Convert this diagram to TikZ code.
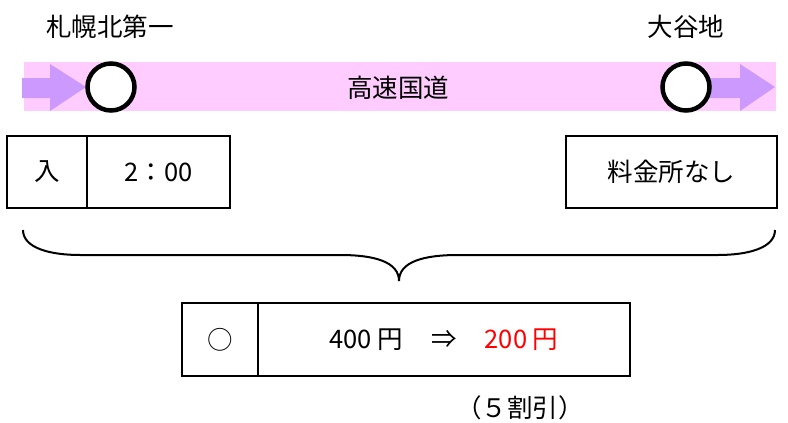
\documentclass[tikz,border=0pt]{standalone}
\usepackage{fontspec}
\setmainfont{Noto Sans CJK JP}
\definecolor{bandpink}{HTML}{FFCCFF}
\definecolor{arrowpurple}{HTML}{CC99FF}
\definecolor{pricered}{HTML}{FF0000}
\begin{document}
\begin{tikzpicture}[x=1pt,y=-1pt,
  lbl/.style={inner sep=0pt, font=\fontsize{25.5pt}{30pt}\selectfont},
  cell/.style={draw=black, line width=2pt, inner sep=0pt, font=\fontsize{25.5pt}{30pt}\selectfont},
  ic/.style={circle, draw=black, line width=4.5pt, fill=white, minimum size=47pt, inner sep=0pt},
  bracestroke/.style={draw=black, line width=2pt}]
\useasboundingbox (0,0) rectangle (788,423);
% band
\fill[bandpink] (24,62) rectangle (776,111);
% left arrow
\fill[arrowpurple] (22,78) -- (50,78) -- (50,64) -- (86,87) -- (50,111) -- (50,98) -- (22,98) -- cycle;
% right arrow
\fill[arrowpurple] (700,78) -- (740,78) -- (740,64) -- (775,87) -- (740,111) -- (740,98) -- (700,98) -- cycle;
% interchanges
\node[ic] (ic1) at (111,87) {};
\node[ic] (ic2) at (686,87) {};
\node[lbl] (n1) at (110,27) {札幌北第一};
\node[lbl] (n2) at (686,27) {大谷地};
\node[lbl] (road) at (398,88) {高速国道};
% entry box
\node[cell, minimum width=80pt, minimum height=72pt] (in) at (47,172) {入};
\node[cell, minimum width=143pt, minimum height=72pt] (time) at (158.5,172) {2：00};
% no toll box
\node[cell, minimum width=211pt, minimum height=72pt] (none) at (671.5,172) {料金所なし};
% brace
\draw[bracestroke] (23,230) .. controls (23,248) and (50,255) .. (80,255)
  -- (340,255) .. controls (375,255) and (399,262) .. (399,281);
\draw[bracestroke] (399,281) .. controls (399,262) and (423,255) .. (458,255)
  -- (718,255) .. controls (748,255) and (775,248) .. (775,230);
% result box
\node[cell, minimum width=76pt, minimum height=73pt] (ok) at (220,339.5) {○};
\node[cell, minimum width=372pt, minimum height=73pt] (price) at (444,339.5) {400 円\hspace{28pt}⇒\hspace{28pt}\textcolor{pricered}{200 円}};
\node[lbl] (disc) at (520,408) {（５割引）};
\end{tikzpicture}
\end{document}
